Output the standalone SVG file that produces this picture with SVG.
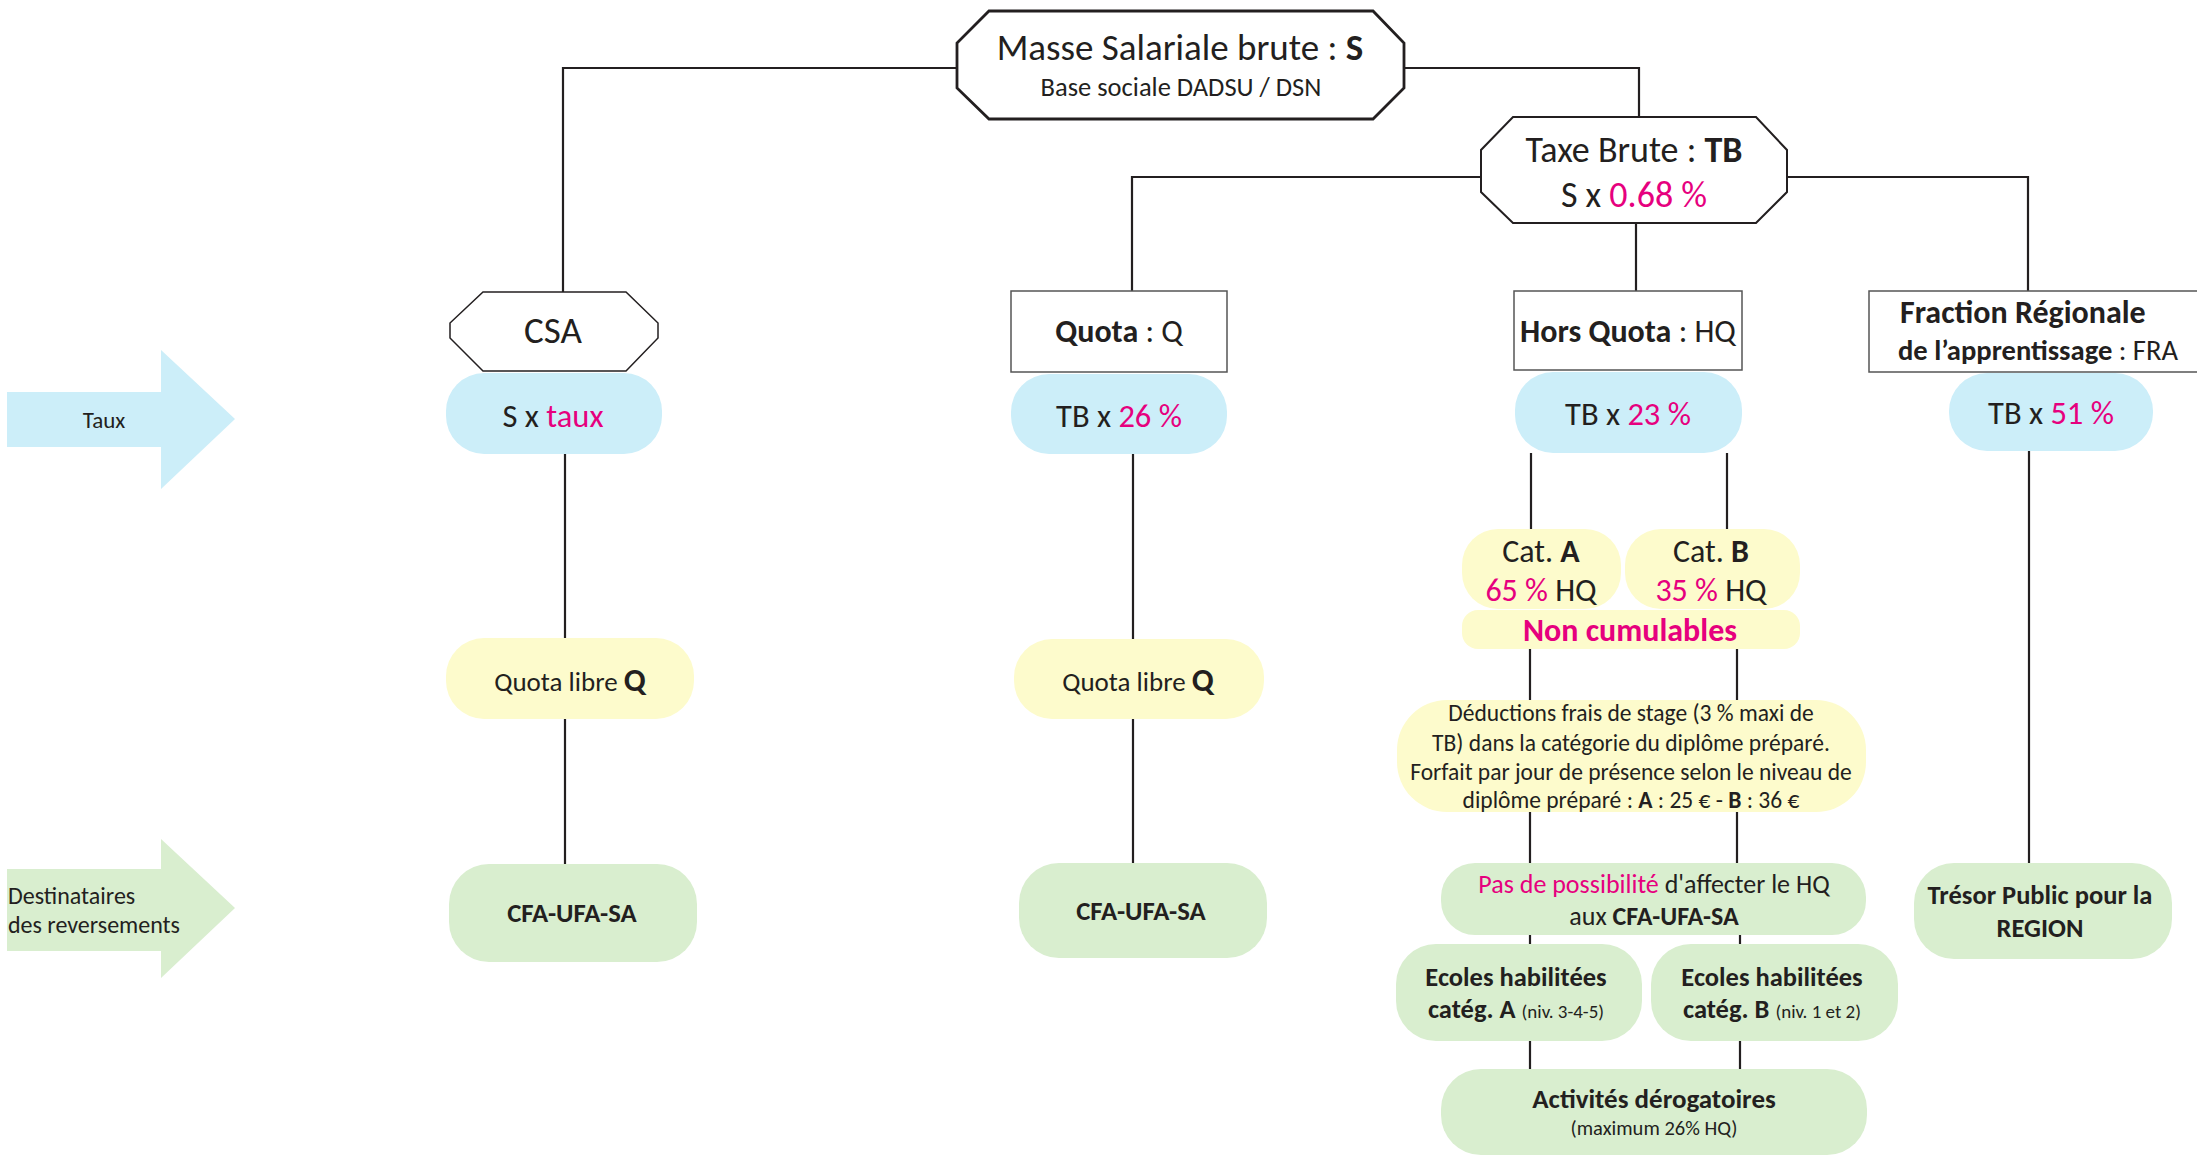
<svg xmlns="http://www.w3.org/2000/svg" width="2197" height="1155" viewBox="0 0 2197 1155">
<style>
text{font-family:Carlito,Lato,"Open Sans",sans-serif;fill:#231f20}
.c{text-anchor:middle}
.b{font-weight:bold}
.p{fill:#e6007e}
.blue{fill:#cceef9}
.yel{fill:#fdfbcc}
.grn{fill:#d9eecf}
.ln{stroke:#231f20;stroke-width:2.2;fill:none}
.hex{fill:#fff;stroke:#231f20}
.box{fill:#fff;stroke:#555;stroke-width:1.5}
</style>
<rect width="2197" height="1155" fill="#fff"/>
<g id="connectors" class="ln">
<path d="M957,68 H563 V292"/>
<path d="M1404,68 H1639 V117"/>
<path d="M1481,177 H1132 V291"/>
<path d="M1787,177 H2028 V291"/>
<path d="M1636,223 V291"/>
<path d="M565,454 V638 M565,719 V864"/>
<path d="M1133,454 V639 M1133,719 V863"/>
<path d="M1531,453 V529 M1727,453 V529"/>
<path d="M1530,649 V700 M1737,649 V700"/>
<path d="M1530,812 V863 M1737,812 V863"/>
<path d="M1530,935 V944 M1740,935 V944"/>
<path d="M1530,1041 V1069 M1740,1041 V1069"/>
<path d="M2029,451 V863"/>
</g>
<g id="arrow-taux">
<polygon class="blue" points="7,392 161,392 161,350 235,419 161,489 161,447 7,447"/>
<text x="104" y="428" class="c" font-size="23">Taux</text>
</g>
<g id="arrow-dest">
<polygon class="grn" points="7,869 161,869 161,839 235,908 161,978 161,951 7,951"/>
<text x="8" y="904" font-size="24">Destinataires</text>
<text x="8" y="933" font-size="24">des reversements</text>
</g>
<g id="masse">
<polygon class="hex" stroke-width="2.8" points="989,11 1373,11 1404,43 1404,88 1373,119 989,119 957,88 957,43"/>
<text x="1180" y="60" class="c" font-size="37">Masse Salariale brute : <tspan class="b">S</tspan></text>
<text x="1181" y="96" class="c" font-size="26.5">Base sociale DADSU / DSN</text>
</g>
<g id="taxe-brute">
<polygon class="hex" stroke-width="2" points="1513,117 1756,117 1787,150 1787,192 1756,223 1513,223 1481,192 1481,150"/>
<text x="1634" y="162" class="c" font-size="36">Taxe Brute : <tspan class="b">TB</tspan></text>
<text x="1634" y="207" class="c" font-size="36">S x <tspan class="p">0.68 %</tspan></text>
</g>
<g id="csa">
<polygon class="hex" stroke-width="1.5" points="483,292 626,292 658,323 658,338 626,371 483,371 450,338 450,323"/>
<text x="553" y="343" class="c" font-size="37">CSA</text>
</g>
<g id="quota">
<rect class="box" x="1011" y="291" width="216" height="81"/>
<text x="1119" y="342" class="c" font-size="32"><tspan class="b">Quota</tspan> : Q</text>
</g>
<g id="hors-quota">
<rect class="box" x="1514" y="291" width="228" height="79"/>
<text x="1628" y="342" class="c" font-size="32"><tspan class="b">Hors Quota</tspan> : HQ</text>
</g>
<g id="fra">
<rect class="box" x="1869" y="291" width="340" height="81"/>
<text x="1900" y="323" font-size="32" class="b">Fraction Régionale</text>
<text x="1898" y="360" font-size="28.6"><tspan class="b">de l’apprentissage</tspan> : FRA</text>
</g>
<g id="csa-taux">
<rect class="blue" x="446" y="373" width="216" height="81" rx="38"/>
<text x="553" y="427" class="c" font-size="32.5">S x <tspan class="p">taux</tspan></text>
</g>
<g id="quota-taux">
<rect class="blue" x="1011" y="374" width="216" height="80" rx="38"/>
<text x="1119" y="427" class="c" font-size="32.5">TB x <tspan class="p">26 %</tspan></text>
</g>
<g id="hq-taux">
<rect class="blue" x="1515" y="372" width="227" height="81" rx="38"/>
<text x="1628" y="425" class="c" font-size="32.5">TB x <tspan class="p">23 %</tspan></text>
</g>
<g id="fra-taux">
<rect class="blue" x="1949" y="373" width="204" height="78" rx="38"/>
<text x="2051" y="424" class="c" font-size="32.5">TB x <tspan class="p">51 %</tspan></text>
</g>
<g id="cat-a">
<rect class="yel" x="1462" y="529" width="159" height="80" rx="36"/>
<text x="1541" y="562" class="c" font-size="32">Cat. <tspan class="b">A</tspan></text>
<text x="1541" y="601" class="c" font-size="32"><tspan class="p">65 %</tspan> HQ</text>
</g>
<g id="cat-b">
<rect class="yel" x="1625" y="529" width="175" height="80" rx="36"/>
<text x="1711" y="562" class="c" font-size="32">Cat. <tspan class="b">B</tspan></text>
<text x="1711" y="601" class="c" font-size="32"><tspan class="p">35 %</tspan> HQ</text>
</g>
<g id="non-cumulables">
<rect class="yel" x="1462" y="610" width="338" height="39" rx="16"/>
<text x="1630" y="641" class="c b p" font-size="32">Non cumulables</text>
</g>
<g id="deductions">
<rect class="yel" x="1397" y="700" width="469" height="112" rx="50"/>
<text x="1631" y="721" class="c" font-size="23.5">Déductions frais de stage (3 % maxi de</text>
<text x="1631" y="751" class="c" font-size="23.5">TB) dans la catégorie du diplôme préparé.</text>
<text x="1631" y="780" class="c" font-size="23.5">Forfait par jour de présence selon le niveau de</text>
<text x="1631" y="808" class="c" font-size="23.5">diplôme préparé : <tspan class="b">A</tspan> : 25 € - <tspan class="b">B</tspan> : 36 €</text>
</g>
<g id="pas-possibilite">
<rect class="grn" x="1441" y="863" width="425" height="72" rx="34"/>
<text x="1654" y="893" class="c" font-size="26"><tspan class="p">Pas de possibilité</tspan> d'affecter le HQ</text>
<text x="1654" y="925" class="c" font-size="26">aux <tspan class="b">CFA-UFA-SA</tspan></text>
</g>
<g id="ecoles-a">
<rect class="grn" x="1396" y="944" width="246" height="97" rx="40"/>
<text x="1516" y="986" class="c b" font-size="26.5">Ecoles habilitées</text>
<text x="1516" y="1018" class="c" font-size="26.5"><tspan class="b">catég. A</tspan> <tspan font-size="19">(niv. 3-4-5)</tspan></text>
</g>
<g id="ecoles-b">
<rect class="grn" x="1651" y="944" width="247" height="97" rx="40"/>
<text x="1772" y="986" class="c b" font-size="26.5">Ecoles habilitées</text>
<text x="1772" y="1018" class="c" font-size="26.5"><tspan class="b">catég. B</tspan> <tspan font-size="19">(niv. 1 et 2)</tspan></text>
</g>
<g id="activites">
<rect class="grn" x="1441" y="1069" width="426" height="86" rx="40"/>
<text x="1654" y="1108" class="c b" font-size="27">Activités dérogatoires</text>
<text x="1654" y="1135" class="c" font-size="20.5">(maximum 26% HQ)</text>
</g>
<g id="tresor">
<rect class="grn" x="1914" y="863" width="258" height="96" rx="40"/>
<text x="2040" y="904" class="c b" font-size="26.5">Trésor Public pour la</text>
<text x="2040" y="937" class="c b" font-size="26.5">REGION</text>
</g>
<g id="quota-libre-csa">
<rect class="yel" x="446" y="638" width="248" height="81" rx="38"/>
<text x="570" y="691" class="c" font-size="27">Quota libre <tspan class="b" font-size="32">Q</tspan></text>
</g>
<g id="quota-libre-q">
<rect class="yel" x="1014" y="639" width="250" height="80" rx="38"/>
<text x="1138" y="691" class="c" font-size="27">Quota libre <tspan class="b" font-size="32">Q</tspan></text>
</g>
<g id="cfa-csa">
<rect class="grn" x="449" y="864" width="248" height="98" rx="40"/>
<text x="572" y="922" class="c b" font-size="26.7">CFA-UFA-SA</text>
</g>
<g id="cfa-q">
<rect class="grn" x="1019" y="863" width="248" height="95" rx="40"/>
<text x="1141" y="920" class="c b" font-size="26.7">CFA-UFA-SA</text>
</g>
</svg>
